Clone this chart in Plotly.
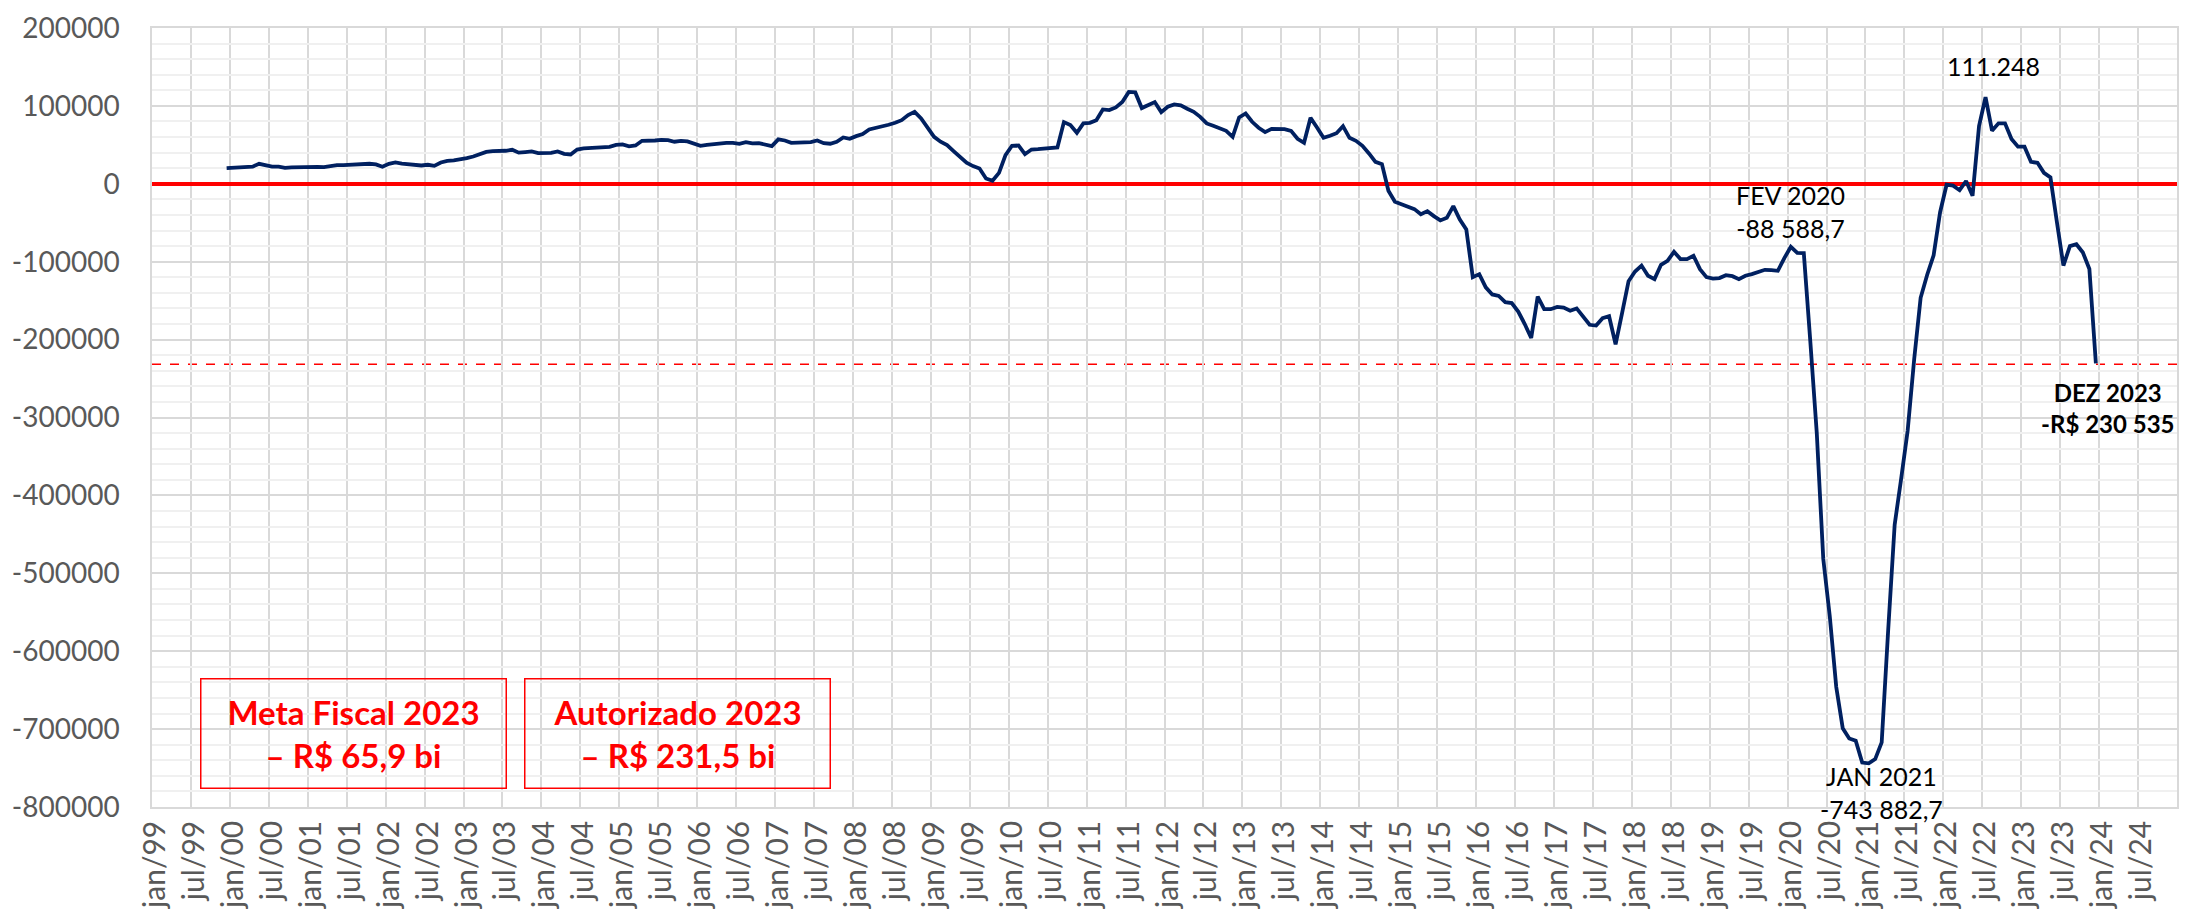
import plotly.graph_objects as go

# ---- DATA ----------------------------------------------------------------
START_YEAR = 1999          # month index 0 = jan/1999
FIRST_MONTH_INDEX = 11     # series starts Dec/1999

# Resultado primário acumulado em 12 meses (R$ milhões), dez/1999 .. dez/2023
values = [
    20100, 20500, 21000, 21000, 22000, 25700, 23500, 22000, 22000, 20500,
    21000, 21400, 21400, 22300, 21800, 21400, 23000, 24000, 24000, 24400,
    24000, 24400, 25700, 24800, 21800, 25700, 27400, 26000, 25300, 23500,
    23500, 24400, 23000, 27400, 29500, 30000, 31200, 33000, 35000, 38000,
    41000, 42000, 42000, 42400, 43700, 40000, 40700, 41500, 39400, 39000,
    39800, 41500, 38500, 37700, 44000, 45400, 46200, 47000, 47500, 47500,
    50000, 50500, 48000, 49200, 55200, 55200, 55600, 56500, 56000, 54000,
    55200, 54400, 52200, 48800, 50000, 51000, 52600, 52600, 52600, 51400,
    53500, 51800, 52200, 50500, 48400, 57000, 55600, 52600, 52600, 53000,
    53500, 55600, 52200, 51400, 54000, 59500, 57800, 61200, 63800, 69800,
    71500, 73600, 75800, 78300, 81700, 88200, 92400, 84000, 72300, 60300,
    54000, 49600, 42000, 34700, 27000, 22700, 19700, 6800, 3900, 14000,
    36800, 48800, 49200, 38000, 44000, 44500, 45400, 45400, 46700, 79200,
    75300, 65500, 77500, 78300, 81700, 95400, 94600, 98000, 104900, 118000,
    117300, 97200, 101000, 104900, 92000, 98900, 101900, 100600, 96300, 92400,
    86000, 77500, 74500, 71000, 68000, 60300, 85200, 90300, 79600, 72000,
    66300, 70600, 71000, 70200, 68000, 57800, 52600, 84700, 72300, 59000,
    61600, 65000, 74000, 59000, 55200, 48800, 39000, 28200, 25300, -9000,
    -23100, -26500, -30400, -32500, -39000, -35100, -41500, -47000, -43700, -28700,
    -45800, -58600, -120000, -116000, -133000, -142000, -144000, -152000, -153000, -164000,
    -180000, -198000, -144700, -161000, -161000, -158000, -159000, -163000, -160000, -170000,
    -181000, -182000, -172500, -170000, -206000, -166000, -125000, -112600, -105000, -118000,
    -122400, -104000, -99000, -87300, -96700, -96700, -92400, -109600, -119800, -121600,
    -121000, -117300, -118600, -122400, -118000, -116000, -113400, -110400, -110900, -111700,
    -95400, -80900, -88588.7, -88800, -202000, -320000, -481500, -555000, -646000, -699000,
    -712000, -715000, -743000, -743882.7, -738500, -717000, -573000, -437500, -378700, -317000,
    -225800, -146400, -117000, -91700, -36500, -1200, -2400, -8200, 3500, -15300,
    74000, 111248, 68200, 77600, 77600, 57600, 47600, 47600, 28200, 27000,
    14100, 8200, -49400, -105000, -80000, -77600, -88200, -109400, -230535,
]

x_tick_labels = [
    "jan/99", "jul/99", "jan/00", "jul/00", "jan/01", "jul/01", "jan/02", "jul/02",
    "jan/03", "jul/03", "jan/04", "jul/04", "jan/05", "jul/05", "jan/06", "jul/06",
    "jan/07", "jul/07", "jan/08", "jul/08", "jan/09", "jul/09", "jan/10", "jul/10",
    "jan/11", "jul/11", "jan/12", "jul/12", "jan/13", "jul/13", "jan/14", "jul/14",
    "jan/15", "jul/15", "jan/16", "jul/16", "jan/17", "jul/17", "jan/18", "jul/18",
    "jan/19", "jul/19", "jan/20", "jul/20", "jan/21", "jul/21", "jan/22", "jul/22",
    "jan/23", "jul/23", "jan/24", "jul/24",
]

y_tick_values = [200000, 100000, 0, -100000, -200000, -300000, -400000,
                 -500000, -600000, -700000, -800000]
y_tick_labels = ["200000", "100000", "0", "-100000", "-200000", "-300000",
                 "-400000", "-500000", "-600000", "-700000", "-800000"]

AUTORIZADO_2023 = -231500

annot_fev2020 = "FEV 2020<br>-88 588,7"
annot_peak = "111.248"
annot_jan2021 = "JAN 2021<br>-743 882,7"
annot_dez2023 = "<b>DEZ 2023<br>-R$ 230 535</b>"
box_meta = "<b>Meta Fiscal 2023<br>– R$ 65,9 bi</b>"
box_aut = "<b>Autorizado 2023<br>– R$ 231,5 bi</b>"

# ---- FIGURE --------------------------------------------------------------
months = list(range(FIRST_MONTH_INDEX, FIRST_MONTH_INDEX + len(values)))
tick_positions = [6 * i for i in range(len(x_tick_labels))]
n_months_axis = 12 * 26  # jan/99 .. dez/24

FONT = "Lato, sans-serif"
GRID = "#d9d9d9"
NAVY = "#002060"
RED = "#ff0000"

fig = go.Figure()
fig.add_trace(go.Scatter(
    x=months, y=values, mode="lines",
    line=dict(color=NAVY, width=3.8),
    hoverinfo="skip", showlegend=False,
))

fig.add_shape(type="line", xref="paper", yref="y", x0=0, x1=1,
              y0=AUTORIZADO_2023, y1=AUTORIZADO_2023,
              line=dict(color=RED, width=1.5, dash="dash"), layer="between")

txt = dict(family=FONT, size=25, color="#000000")
fig.add_annotation(x=252, y=-35000, text=annot_fev2020, showarrow=False,
                   font=txt, xanchor="center", yanchor="middle")
fig.add_annotation(x=283.3, y=151500, text=annot_peak, showarrow=False,
                   font=txt, xanchor="center", yanchor="middle")
fig.add_annotation(x=266, y=-782000, text=annot_jan2021, showarrow=False,
                   font=txt, xanchor="center", yanchor="middle")
fig.add_annotation(x=300.9, y=-288000, text=annot_dez2023, showarrow=False,
                   font=dict(family=FONT, size=24, color="#000000"),
                   xanchor="center", yanchor="middle")

boxfont = dict(family=FONT, size=33, color=RED)
for bx, btxt in ((30.6, box_meta), (80.5, box_aut)):
    fig.add_annotation(x=bx, y=-706000, text=btxt, showarrow=False,
                       font=boxfont, xanchor="center", yanchor="middle",
                       width=304, height=108, align="center", valign="middle",
                       bordercolor=RED, borderwidth=1.5, borderpad=0,
                       bgcolor="rgba(255,255,255,0)")

fig.update_layout(
    width=2190, height=909,
    margin=dict(l=144, r=21, t=20, b=110, autoexpand=False),
    paper_bgcolor="white", plot_bgcolor="white",
    font=dict(family=FONT, color="#595959"),
    showlegend=False,
    xaxis=dict(
        range=[-0.5, n_months_axis - 0.5], automargin=False,
        tickmode="array", tickvals=tick_positions, ticktext=x_tick_labels,
        tickangle=-90, tickfont=dict(family=FONT, size=30, color="#595959"),
        showgrid=False, zeroline=False, ticks="", ticklabeloverflow="allow",
        showline=True, mirror=True, linecolor=GRID, linewidth=1.5,
        minor=dict(tickmode="linear", tick0=-0.5, dtick=6, showgrid=True,
                   gridcolor=GRID, gridwidth=1.5, ticks=""),
    ),
    yaxis=dict(
        range=[-800000, 200000], automargin=False,
        tickmode="array", tickvals=y_tick_values, ticktext=y_tick_labels,
        tickfont=dict(family=FONT, size=28, color="#595959"),
        showgrid=True, gridcolor=GRID, gridwidth=1.5,
        zeroline=True, zerolinecolor=RED, zerolinewidth=3.5,
        ticks="", ticklabelstandoff=25, ticklabeloverflow="allow",
        showline=True, mirror=True, linecolor=GRID, linewidth=1.5,
        minor=dict(tickmode="linear", tick0=0, dtick=20000, showgrid=True,
                   gridcolor="#f0f0f0", gridwidth=1.5, ticks=""),
    ),
)

fig.write_html("out.html")
